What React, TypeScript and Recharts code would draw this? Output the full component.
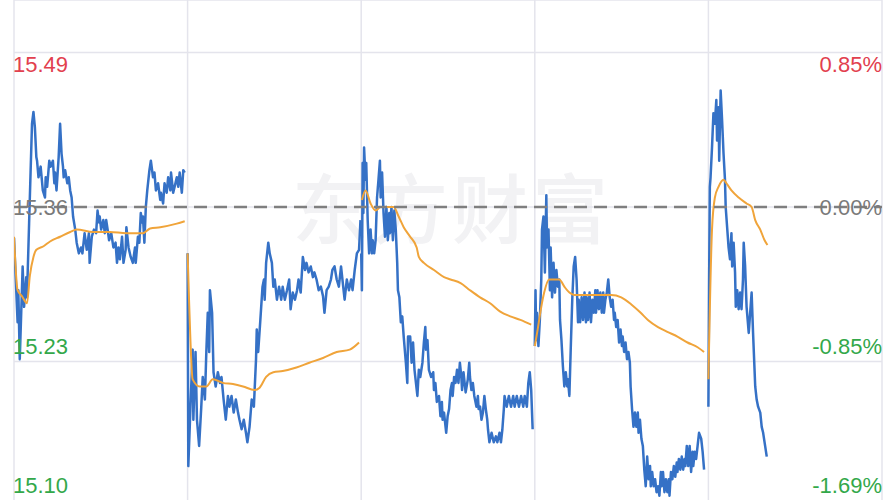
import { LineChart, Line, XAxis, YAxis, CartesianGrid, ReferenceLine } from 'recharts';

// ─── Data: five sessions, [minute of session, price] ───────────────────────
const PRE_CLOSE = 15.36;
const MINUTES_PER_DAY = 241;
const DAY_TICKS = [0, 241, 482, 723, 964, 1205];
const PRICE_TICKS = [15.1, 15.23, 15.36, 15.49];

type Pt = [number, number];

const day1Price: Pt[] = [
  [0, 15.334], [5, 15.263], [6, 15.29], [8, 15.232], [11, 15.29], [12, 15.31], [14, 15.276], [17, 15.301],
  [18, 15.284], [21, 15.347], [23, 15.389], [25, 15.43], [27, 15.44], [29, 15.427], [31, 15.402], [32, 15.399],
  [34, 15.385], [37, 15.394], [40, 15.374], [43, 15.368], [44, 15.385], [46, 15.377], [49, 15.399], [51, 15.394],
  [54, 15.399], [56, 15.38], [57, 15.389], [59, 15.374], [62, 15.402], [64, 15.43], [66, 15.405], [68, 15.394],
  [69, 15.385], [71, 15.391], [74, 15.38], [76, 15.385], [78, 15.374], [80, 15.368], [82, 15.352], [85, 15.341],
  [87, 15.33], [90, 15.321], [93, 15.326], [95, 15.321], [98, 15.338], [101, 15.324], [104, 15.338], [105, 15.313],
  [108, 15.335], [111, 15.341], [114, 15.338], [116, 15.357], [118, 15.347], [119, 15.352], [121, 15.341], [124, 15.349],
  [126, 15.338], [128, 15.349], [130, 15.341], [132, 15.332], [135, 15.338], [138, 15.326], [141, 15.33], [143, 15.313],
  [145, 15.326], [147, 15.316], [150, 15.335], [152, 15.313], [155, 15.324], [156, 15.343], [159, 15.326], [162, 15.318],
  [165, 15.313], [168, 15.326], [169, 15.313], [172, 15.335], [174, 15.33], [176, 15.355], [178, 15.347], [179, 15.352],
  [181, 15.33], [183, 15.36], [185, 15.374], [188, 15.391], [190, 15.399], [193, 15.385], [195, 15.389], [197, 15.374],
  [200, 15.38], [203, 15.366], [204, 15.372], [207, 15.363], [209, 15.38], [212, 15.372], [214, 15.385], [217, 15.374],
  [218, 15.389], [221, 15.372], [223, 15.377], [226, 15.385], [228, 15.377], [230, 15.389], [233, 15.372], [235, 15.391],
  [237, 15.389],
];
const day1Avg: Pt[] = [
  [0, 15.335], [5, 15.29], [11, 15.285], [18, 15.279], [22, 15.302], [27, 15.318], [31, 15.324], [41, 15.327],
  [50, 15.331], [64, 15.335], [78, 15.339], [87, 15.341], [110, 15.339], [133, 15.339], [156, 15.338], [179, 15.338],
  [189, 15.342], [203, 15.343], [226, 15.346], [237, 15.348],
];

const day2Price: Pt[] = [
  [0, 15.321], [1, 15.142], [4, 15.192], [7, 15.24], [8, 15.181], [11, 15.238], [13, 15.181], [16, 15.159],
  [19, 15.192], [21, 15.217], [24, 15.198], [26, 15.238], [28, 15.271], [30, 15.238], [31, 15.29], [34, 15.271],
  [36, 15.221], [39, 15.209], [42, 15.221], [45, 15.212], [47, 15.217], [50, 15.198], [53, 15.181], [56, 15.201],
  [58, 15.192], [61, 15.201], [64, 15.187], [67, 15.198], [70, 15.187], [72, 15.181], [75, 15.173], [78, 15.181],
  [81, 15.17], [83, 15.162], [86, 15.175], [89, 15.198], [92, 15.192], [95, 15.232], [96, 15.257], [98, 15.238],
  [101, 15.265], [104, 15.293], [106, 15.299], [107, 15.282], [109, 15.313], [112, 15.33], [114, 15.321], [117, 15.313],
  [119, 15.293], [121, 15.299], [124, 15.282], [127, 15.293], [130, 15.282], [132, 15.293], [135, 15.282], [138, 15.29],
  [141, 15.299], [143, 15.274], [146, 15.288], [149, 15.282], [152, 15.29], [154, 15.299], [157, 15.288], [160, 15.318],
  [163, 15.307], [165, 15.313], [168, 15.305], [171, 15.31], [174, 15.301], [176, 15.305], [179, 15.299], [182, 15.29],
  [185, 15.293], [188, 15.285], [190, 15.271], [193, 15.29], [196, 15.293], [199, 15.299], [201, 15.307], [204, 15.31],
  [207, 15.299], [210, 15.293], [213, 15.31], [216, 15.293], [218, 15.282], [221, 15.299], [224, 15.29], [227, 15.299],
  [229, 15.29], [232, 15.307], [235, 15.321], [238, 15.324], [240, 15.349],
];
const day2Avg: Pt[] = [
  [0, 15.321], [2, 15.282], [7, 15.215], [17, 15.209], [26, 15.209], [35, 15.215], [49, 15.212], [63, 15.211],
  [77, 15.209], [93, 15.206], [100, 15.208], [109, 15.217], [119, 15.221], [132, 15.222], [151, 15.225], [169, 15.229],
  [188, 15.233], [207, 15.238], [225, 15.24], [238, 15.246],
];

const day3Price: Pt[] = [
  [0, 15.321], [1, 15.29], [2, 15.397], [3, 15.355], [4, 15.41], [6, 15.383], [7, 15.397], [9, 15.349],
  [11, 15.321], [13, 15.341], [15, 15.321], [16, 15.332], [18, 15.321], [20, 15.332], [22, 15.368], [24, 15.383],
  [26, 15.399], [27, 15.368], [29, 15.389], [31, 15.355], [33, 15.335], [35, 15.36], [37, 15.332], [39, 15.355],
  [40, 15.338], [42, 15.36], [44, 15.332], [46, 15.357], [48, 15.341], [50, 15.313], [51, 15.29], [53, 15.284],
  [55, 15.263], [57, 15.268], [59, 15.251], [62, 15.229], [64, 15.212], [65, 15.251], [68, 15.251], [70, 15.229],
  [72, 15.246], [74, 15.223], [76, 15.212], [78, 15.201], [80, 15.223], [82, 15.217], [85, 15.229], [87, 15.246],
  [89, 15.259], [90, 15.24], [92, 15.248], [94, 15.223], [97, 15.217], [100, 15.221], [101, 15.206], [103, 15.212],
  [105, 15.196], [108, 15.201], [110, 15.184], [112, 15.196], [113, 15.181], [115, 15.187], [118, 15.17], [120, 15.184],
  [122, 15.19], [124, 15.206], [126, 15.212], [127, 15.201], [129, 15.217], [131, 15.212], [133, 15.223], [135, 15.212],
  [137, 15.229], [139, 15.217], [140, 15.206], [142, 15.221], [145, 15.204], [148, 15.215], [150, 15.229], [151, 15.217],
  [153, 15.206], [155, 15.212], [157, 15.201], [160, 15.192], [162, 15.201], [163, 15.19], [165, 15.192], [167, 15.181],
  [169, 15.187], [171, 15.201], [173, 15.19], [175, 15.181], [176, 15.173], [178, 15.162], [181, 15.17], [184, 15.162],
  [187, 15.167], [189, 15.162], [192, 15.17], [194, 15.162], [196, 15.173], [198, 15.19], [199, 15.201], [202, 15.192],
  [205, 15.201], [208, 15.192], [211, 15.201], [213, 15.192], [216, 15.201], [219, 15.192], [222, 15.201], [225, 15.192],
  [227, 15.201], [230, 15.192], [232, 15.212], [234, 15.221], [236, 15.206], [238, 15.173],
];
const day3Avg: Pt[] = [
  [1, 15.366], [6, 15.374], [13, 15.363], [20, 15.357], [27, 15.36], [36, 15.36], [45, 15.36], [52, 15.352],
  [59, 15.343], [68, 15.335], [77, 15.326], [80, 15.318], [87, 15.313], [101, 15.307], [115, 15.301], [124, 15.299],
  [138, 15.296], [151, 15.29], [165, 15.284], [179, 15.279], [193, 15.272], [207, 15.268], [221, 15.265], [236, 15.261],
];

const day4Price: Pt[] = [
  [0, 15.243], [1, 15.29], [2, 15.248], [3, 15.271], [5, 15.243], [7, 15.265], [9, 15.299], [10, 15.341],
  [12, 15.352], [14, 15.305], [16, 15.37], [17, 15.326], [19, 15.341], [21, 15.29], [22, 15.326], [24, 15.284],
  [26, 15.313], [28, 15.288], [30, 15.307], [32, 15.293], [34, 15.299], [35, 15.265], [37, 15.248], [39, 15.226],
  [41, 15.209], [43, 15.221], [45, 15.209], [46, 15.215], [48, 15.201], [50, 15.243], [52, 15.282], [54, 15.31],
  [56, 15.318], [58, 15.299], [60, 15.263], [61, 15.282], [63, 15.263], [65, 15.284], [67, 15.265], [69, 15.288],
  [71, 15.263], [72, 15.284], [74, 15.265], [76, 15.288], [78, 15.263], [80, 15.282], [82, 15.271], [84, 15.29],
  [85, 15.271], [87, 15.29], [89, 15.274], [91, 15.288], [93, 15.271], [95, 15.288], [96, 15.271], [98, 15.282],
  [100, 15.288], [102, 15.299], [104, 15.284], [106, 15.276], [108, 15.282], [110, 15.265], [111, 15.271], [113, 15.259],
  [115, 15.265], [117, 15.246], [119, 15.257], [121, 15.243], [122, 15.251], [124, 15.238], [126, 15.246], [128, 15.232],
  [130, 15.238], [132, 15.229], [133, 15.209], [135, 15.19], [137, 15.175], [139, 15.187], [141, 15.175], [143, 15.187],
  [144, 15.17], [146, 15.181], [148, 15.165], [150, 15.159], [152, 15.139], [154, 15.125], [156, 15.15], [158, 15.131],
  [160, 15.142], [161, 15.125], [163, 15.137], [165, 15.125], [167, 15.131], [169, 15.12], [171, 15.125], [173, 15.117],
  [175, 15.137], [176, 15.125], [178, 15.137], [180, 15.12], [182, 15.131], [184, 15.12], [186, 15.131], [187, 15.117],
  [189, 15.137], [191, 15.131], [193, 15.142], [195, 15.133], [197, 15.145], [198, 15.137], [200, 15.148], [202, 15.139],
  [204, 15.15], [206, 15.139], [208, 15.148], [209, 15.142], [211, 15.159], [213, 15.142], [215, 15.159], [217, 15.137],
  [219, 15.154], [220, 15.142], [222, 15.154], [224, 15.148], [226, 15.159], [228, 15.17], [231, 15.165], [233, 15.154],
  [235, 15.139],
];
const day4Avg: Pt[] = [
  [0, 15.243], [4, 15.257], [9, 15.276], [13, 15.288], [20, 15.299], [27, 15.299], [34, 15.299], [41, 15.293],
  [48, 15.288], [55, 15.286], [69, 15.286], [87, 15.286], [106, 15.286], [120, 15.284], [134, 15.278], [147, 15.271],
  [157, 15.265], [171, 15.259], [184, 15.255], [198, 15.251], [212, 15.246], [226, 15.242], [235, 15.238],
];

const day5Price: Pt[] = [
  [0, 15.192], [1, 15.299], [2, 15.377], [3, 15.385], [5, 15.41], [7, 15.439], [9, 15.43], [11, 15.45],
  [12, 15.416], [14, 15.444], [15, 15.399], [17, 15.458], [19, 15.433], [21, 15.405], [23, 15.383], [24, 15.36],
  [26, 15.343], [28, 15.326], [30, 15.316], [32, 15.338], [33, 15.31], [35, 15.33], [37, 15.305], [38, 15.276],
  [40, 15.29], [42, 15.274], [44, 15.288], [46, 15.274], [48, 15.299], [49, 15.33], [51, 15.31], [53, 15.276],
  [56, 15.254], [58, 15.271], [60, 15.288], [62, 15.254], [65, 15.209], [67, 15.198], [69, 15.192], [72, 15.187],
  [74, 15.175], [76, 15.17], [78, 15.162], [81, 15.15],
];
const day5Avg: Pt[] = [
  [0, 15.215], [5, 15.341], [9, 15.368], [14, 15.377], [21, 15.383], [25, 15.38], [32, 15.374], [42, 15.368],
  [53, 15.363], [60, 15.36], [65, 15.349], [72, 15.341], [78, 15.332], [82, 15.328],
];

const PRICE_DAYS = [day1Price, day2Price, day3Price, day4Price, day5Price];
const AVG_DAYS = [day1Avg, day2Avg, day3Avg, day4Avg, day5Avg];

// ─── Styles ────────────────────────────────────────────────────────────────
const RED = '#e2404e';
const GREEN = '#33a84a';
const GREY = '#7a7a7a';
const FONT = '"Liberation Sans", Arial, sans-serif';

const toSeries = (day: number, pts: Pt[]) =>
  pts.map(([m, p]) => ({ t: day * MINUTES_PER_DAY + m, p }));

const pctText = (price: number) => {
  const v = (price / PRE_CLOSE - 1) * 100;
  return `${v.toFixed(2)}%`;
};

// label pair (price on the left, percent on the right) for a horizontal line
const sideLabels = (price: number, dy: number) => (props: any) => {
  const { x, y, width } = props.viewBox;
  const color = price > PRE_CLOSE ? RED : price < PRE_CLOSE ? GREEN : GREY;
  return (
    <g>
      <text x={x - 1} y={y + dy} fill={color} fontSize={22} fontFamily={FONT} textAnchor="start">
        {price.toFixed(2)}
      </text>
      <text x={x + width} y={y + dy} fill={color} fontSize={22} fontFamily={FONT} textAnchor="end">
        {pctText(price)}
      </text>
    </g>
  );
};

export default function App() {
  return (
    <div style={{ position: 'relative', width: 896, height: 500, overflow: 'hidden', background: '#fff' }}>
      <style>{'body{margin:0}'}</style>
      <div
        style={{
          position: 'absolute',
          left: 0,
          width: 896,
          top: 160,
          textAlign: 'center',
          fontFamily: '"Noto Sans CJK SC", sans-serif',
          fontSize: 76,
          fontWeight: 500,
          letterSpacing: 4,
          color: '#f2f2f4',
          lineHeight: '90px',
          paddingLeft: 4,
        }}
      >
        东方财富
      </div>
      <div style={{ position: 'absolute', left: 0, top: 0 }}>
        <LineChart width={896} height={520} margin={{ top: 0, right: 14, bottom: 4, left: 14 }}>
          <CartesianGrid stroke="#e4e4ec" strokeWidth={1.5} />
          <XAxis type="number" dataKey="t" domain={[0, 1205]} ticks={DAY_TICKS} hide allowDataOverflow />
          <YAxis type="number" domain={[15.1, 15.5342]} ticks={PRICE_TICKS} hide allowDataOverflow />
          {PRICE_DAYS.map((pts, i) => (
            <Line
              key={`p${i}`}
              data={toSeries(i, pts)}
              dataKey="p"
              type="linear"
              stroke="#3571c6"
              strokeWidth={2.5}
              strokeLinejoin="round"
              dot={false}
              activeDot={false}
              isAnimationActive={false}
            />
          ))}
          {AVG_DAYS.map((pts, i) => (
            <Line
              key={`a${i}`}
              data={toSeries(i, pts)}
              dataKey="p"
              type="monotone"
              stroke="#f0a43a"
              strokeWidth={2}
              dot={false}
              activeDot={false}
              isAnimationActive={false}
            />
          ))}
          <ReferenceLine y={PRE_CLOSE} stroke="#7f7f7f" strokeWidth={2.5} strokeDasharray="13 7" label={sideLabels(PRE_CLOSE, 8)} />
          <ReferenceLine y={15.49} stroke="none" label={sideLabels(15.49, 19.5)} />
          <ReferenceLine y={15.23} stroke="none" label={sideLabels(15.23, -7.5)} />
          {/* bottom labels sit higher so their whole box stays inside the 500px frame */}
          <ReferenceLine y={15.1} stroke="none" label={sideLabels(15.1, -23)} />
        </LineChart>
      </div>
    </div>
  );
}
